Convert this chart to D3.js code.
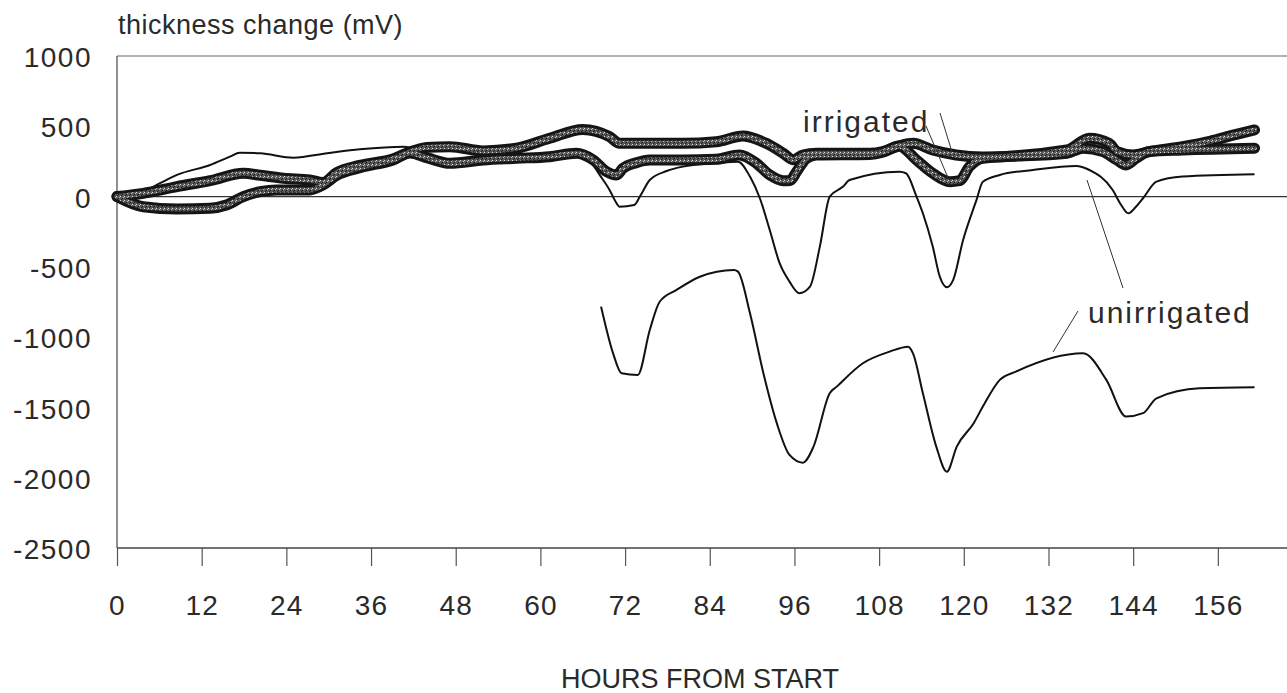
<!DOCTYPE html>
<html>
<head>
<meta charset="utf-8">
<script src="https://cdn.jsdelivr.net/npm/d3@7/dist/d3.min.js"></script>
<style>
  html, body { margin: 0; padding: 0; background: #fff; }
  svg { display: block; }
  text { font-family: "Liberation Sans", Arial, Helvetica, sans-serif; fill: #2a2a2a; }
</style>
</head>
<body>
<svg id="chart" width="1287" height="693"></svg>
<script>
// Stem thickness change recorded on irrigated and unirrigated trees (mV)

const xTickValues = [0, 12, 24, 36, 48, 60, 72, 84, 96, 108, 120, 132, 144, 156];
const yTickValues = [1000, 500, 0, -500, -1000, -1500, -2000, -2500];

// irrigated tree, first sensor
const irrigatedAHours = [0, 1, 3.7, 8.5, 13.2, 17.9, 20.3, 23.6, 27.3, 29.2, 31.1, 34.4, 39.2, 41.5, 43.9, 47.2,
  51.9, 56.6, 61.3, 66.0, 69.8, 71.2, 75.5, 80.2, 84.9, 88.7, 92.0, 94.4, 95.8, 97.2, 99.1, 106.7,
  108.5, 110.8, 112.8, 115.6, 118.9, 122.7, 134.6, 137.8, 140.6, 141.7, 144.0, 146.3, 151.0, 155.0, 158.0, 161.2];
const irrigatedAValues = [0, 5, 23, 71, 113, 166, 152, 130, 118, 100, 170, 222, 270, 318, 350, 355,
  325, 344, 415, 478, 426, 379, 379, 379, 390, 431, 379, 308, 262, 296, 308, 308,
  320, 360, 379, 331, 296, 282, 331, 415, 379, 320, 296, 320, 355, 395, 435, 474];

// irrigated tree, second sensor
const irrigatedBHours = [0, 3.7, 8.5, 13.2, 15.5, 17.9, 20.3, 22.6, 27.3, 29.2, 31.1, 34.4, 39.2, 41.5, 44.0, 47.2,
  51.9, 56.6, 61.3, 65.1, 67.5, 69.4, 70.8, 71.7, 73.6, 75.5, 80.2, 84.9, 88.2, 90.6, 92.5, 94.4, 95.4, 96.3,
  97.7, 99.1, 106.7, 108.5, 110.8, 113.3, 115.6, 118.0, 119.4, 120.8, 122.7, 134.6, 136.9, 139.7, 141.7,
  143.0, 144.4, 146.3, 151.0, 161.2];
const irrigatedBValues = [0, -72, -88, -83, -60, 0, 35, 47, 47, 83, 150, 205, 262, 310, 275, 237,
  260, 272, 284, 308, 260, 177, 154, 201, 241, 260, 260, 265, 296, 237, 154, 113, 115, 177,
  272, 296, 300, 315, 360, 260, 166, 106, 113, 213, 272, 308, 344, 320, 260,
  225, 272, 320, 331, 344];

// unirrigated tree, first sensor
const unirrigatedAHours = [0, 3.7, 6.1, 8.5, 13.2, 16.0, 17.4, 20.3, 25.0, 29.8, 34.4, 40.6, 43.0, 47.2,
  52.0, 57.0, 61.0, 65.0, 67.0, 68.4, 69.8, 70.8, 71.2, 73.3, 74.1, 75.5, 77.9, 80.2, 84.9, 88.0,
  89.7, 91.1, 92.5, 93.9, 95.3, 96.7, 98.2, 99.6, 101.0, 102.9, 103.8, 110.9, 111.8, 113.3, 114.2,
  115.6, 116.6, 117.6, 118.5, 119.9, 121.8, 122.7, 125.1, 129.8, 135.9, 137.8, 141.1, 142.3, 143.3,
  144.4, 145.4, 147.3, 151.0, 161.2];
const unirrigatedAValues = [0, 35, 95, 154, 225, 284, 312, 308, 277, 308, 336, 355, 330, 240,
  258, 270, 282, 300, 255, 154, 47, -48, -72, -60, 0, 118, 182, 213, 237, 248,
  142, -12, -238, -474, -605, -688, -641, -356, 0, 71, 118, 177, 166, 0, -119,
  -356, -570, -645, -593, -309, -24, 106, 154, 189, 218, 189, 47, -60, -119,
  -72, -12, 106, 142, 158];

// unirrigated tree, second sensor
const unirrigatedBHours = [68.6, 70.3, 71.5, 73.8, 75.5, 76.9, 79.3, 82.6, 87.4, 88.0, 89.7, 91.6, 93.5,
  95.3, 97.2, 98.7, 101.0, 102.0, 105.7, 109.5, 112.1, 112.8, 114.2, 116.1, 117.6, 119.0, 121.4,
  122.7, 125.1, 127.4, 136.9, 140.2, 143.0, 145.4, 147.3, 153.4, 161.2];
const unirrigatedBValues = [-783, -1115, -1257, -1269, -949, -748, -664, -570, -522, -534, -830, -1257, -1612,
  -1838, -1893, -1779, -1399, -1352, -1186, -1103, -1068, -1115, -1399, -1779, -1957, -1779, -1612,
  -1494, -1304, -1245, -1115, -1304, -1565, -1541, -1435, -1364, -1357];

const svg = d3.select("#chart");

const x = d3.scaleLinear().domain([0, 165.8]).range([117, 1287]);
const y = d3.scaleLinear().domain([-2500, 1000]).range([548, 56]);

const zip = (hs, vs) => hs.map((h, i) => ({ h, v: vs[i] }));
const line = d3.line().x(d => x(d.h)).y(d => y(d.v)).curve(d3.curveMonotoneX);

// frame: top rule, zero line, left axis
svg.append("line").attr("x1", x(0)).attr("x2", 1287).attr("y1", y(1000)).attr("y2", y(1000))
  .attr("stroke", "#666").attr("stroke-width", 1.2);
svg.append("line").attr("x1", x(0)).attr("x2", 1287).attr("y1", y(0)).attr("y2", y(0))
  .attr("stroke", "#333").attr("stroke-width", 1.3);
svg.append("line").attr("x1", x(0)).attr("x2", x(0)).attr("y1", y(1000)).attr("y2", y(-2500))
  .attr("stroke", "#555").attr("stroke-width", 1.3);

// y labels (no tick marks)
svg.append("g").selectAll("text").data(yTickValues).join("text")
  .attr("x", 92).attr("y", d => y(d) + 1).attr("dy", "0.36em")
  .attr("text-anchor", "end").attr("font-size", 28).attr("letter-spacing", 1.5)
  .text(d => d);

// x axis
const xAxis = d3.axisBottom(x).tickValues(xTickValues).tickSize(18).tickPadding(29).tickSizeOuter(0);
const gx = svg.append("g").attr("transform", `translate(0,${y(-2500)})`).call(xAxis);
gx.select(".domain").remove();
gx.selectAll(".tick line").attr("stroke", "#555").attr("stroke-width", 1.2);
gx.selectAll(".tick text").attr("font-size", 28).attr("letter-spacing", 1.2).attr("fill", "#2a2a2a")
  .attr("font-family", "Liberation Sans, Arial, sans-serif");
svg.append("line").attr("x1", x(0)).attr("x2", 1287).attr("y1", y(-2500)).attr("y2", y(-2500))
  .attr("stroke", "#444").attr("stroke-width", 1.5);

// thin unirrigated traces
[zip(unirrigatedAHours, unirrigatedAValues), zip(unirrigatedBHours, unirrigatedBValues)].forEach(s => {
  svg.append("path").datum(s).attr("d", line)
    .attr("fill", "none").attr("stroke", "#111").attr("stroke-width", 2)
    .attr("stroke-linejoin", "round");
});

// speckled fill used inside the thick irrigated traces
const defs = svg.append("defs");
const pat = defs.append("pattern").attr("id", "grain").attr("patternUnits", "userSpaceOnUse")
  .attr("width", 4).attr("height", 4);
pat.append("rect").attr("width", 4).attr("height", 4).attr("fill", "#5a5a5a");
pat.append("rect").attr("x", 0).attr("y", 0).attr("width", 1).attr("height", 1).attr("fill", "#ddd");
pat.append("rect").attr("x", 2).attr("y", 2).attr("width", 1).attr("height", 1).attr("fill", "#111");
pat.append("rect").attr("x", 3).attr("y", 1).attr("width", 1).attr("height", 1).attr("fill", "#bbb");
pat.append("rect").attr("x", 1).attr("y", 3).attr("width", 1).attr("height", 1).attr("fill", "#222");

// thick irrigated traces
const irrigated = [zip(irrigatedAHours, irrigatedAValues), zip(irrigatedBHours, irrigatedBValues)];
irrigated.forEach(s => {
  svg.append("path").datum(s).attr("d", line)
    .attr("fill", "none").attr("stroke", "#151515").attr("stroke-width", 11)
    .attr("stroke-linejoin", "round").attr("stroke-linecap", "round");
});
irrigated.forEach(s => {
  svg.append("path").datum(s).attr("d", line)
    .attr("fill", "none").attr("stroke", "url(#grain)").attr("stroke-width", 5)
    .attr("stroke-linejoin", "round").attr("stroke-linecap", "round");
});

// annotations
svg.append("text").attr("x", 118).attr("y", 34).attr("font-size", 27).attr("letter-spacing", 0.5)
  .text("thickness change (mV)");
svg.append("text").attr("x", 700).attr("y", 688).attr("text-anchor", "middle").attr("font-size", 27)
  .text("HOURS FROM START");

svg.append("text").attr("x", 803).attr("y", 132).attr("font-size", 30).attr("letter-spacing", 2)
  .text("irrigated");
svg.append("line").attr("x1", 926).attr("y1", 126).attr("x2", 949).attr("y2", 180)
  .attr("stroke", "#333").attr("stroke-width", 1);
svg.append("line").attr("x1", 940).attr("y1", 113).attr("x2", 952).attr("y2", 152)
  .attr("stroke", "#333").attr("stroke-width", 1);

svg.append("text").attr("x", 1088).attr("y", 323).attr("font-size", 30).attr("letter-spacing", 2)
  .text("unirrigated");
svg.append("line").attr("x1", 1087).attr("y1", 180).attr("x2", 1123).attr("y2", 288)
  .attr("stroke", "#333").attr("stroke-width", 1);
svg.append("line").attr("x1", 1078).attr("y1", 311).attr("x2", 1053).attr("y2", 352)
  .attr("stroke", "#333").attr("stroke-width", 1);
</script>
</body>
</html>
